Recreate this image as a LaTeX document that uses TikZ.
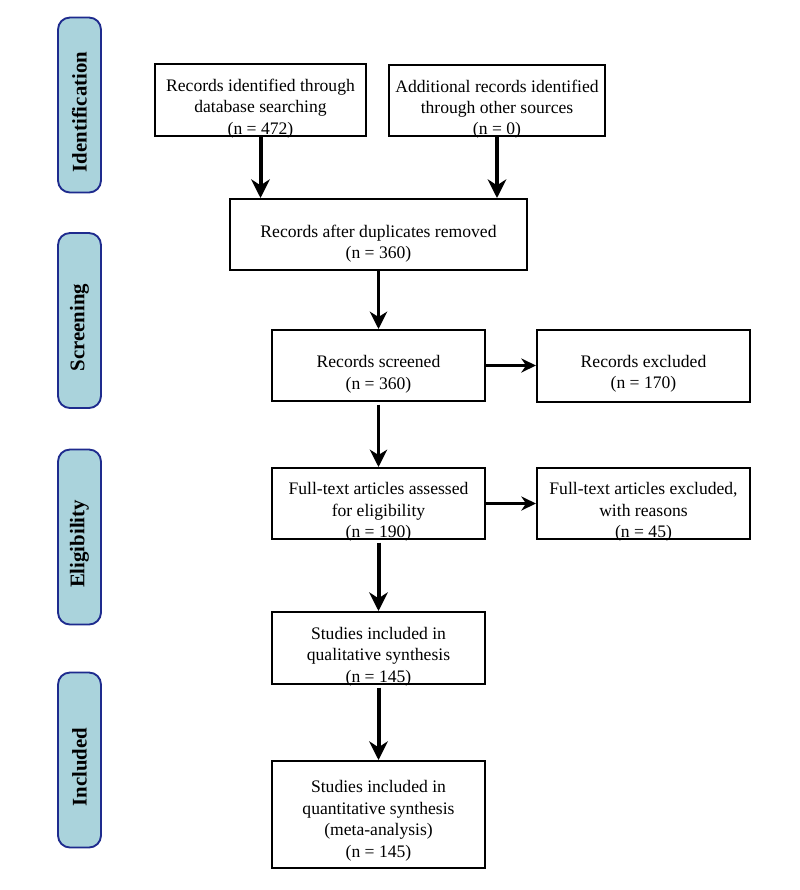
\documentclass[tikz,border=0pt]{standalone}
\usepackage{fontspec}
\setmainfont{Liberation Serif}
\usetikzlibrary{arrows.meta}
\definecolor{phasefill}{HTML}{AAD3DC}
\definecolor{phaseline}{HTML}{1E2B8E}
\tikzset{
  flowbox/.style={draw=black, line width=1.5pt, fill=white, inner sep=0pt},
  boxtext/.style={align=center, inner sep=0pt, font=\fontsize{13.2}{16.1}\selectfont},
  phasebox/.style={draw=phaseline, fill=phasefill, line width=1.4pt, rounded corners=9pt,
    minimum width=32.25pt, minimum height=131.25pt, inner sep=0pt},
  phasetext/.style={rotate=90, inner sep=0pt, font=\fontsize{15.6}{18}\selectfont\bfseries},
  thickarrow/.style={line width=3pt, -{Stealth[length=14pt, width=14pt, inset=4.5pt]}},
  midarrow/.style={line width=2.4pt, -{Stealth[length=13pt, width=13pt, inset=4pt]}},
  sidearrow/.style={line width=2.2pt, -{Stealth[length=11pt, width=10.5pt, inset=3.5pt]}}
}
\begin{document}
\begin{tikzpicture}[x=0.75pt, y=-0.75pt]
\useasboundingbox[fill=white] (0,0) rectangle (800,890);

% phase labels
\node[phasebox] (p1) at (79.5,105) {};
\node[phasetext] (p1t) at ([yshift=-5.25pt]p1.center) {Identification};
\node[phasebox] (p2) at (79.5,320.5) {};
\node[phasetext] (p2t) at ([yshift=-5.25pt]p2.center) {Screening};
\node[phasebox] (p3) at (79.5,537) {};
\node[phasetext] (p3t) at ([yshift=-5.25pt]p3.center) {Eligibility};
\node[phasebox] (p4) at (79.5,760) {};
\node[phasetext] (p4t) at ([yshift=-5.25pt]p4.center) {Included};

% boxes
\node[flowbox, minimum width=158.25pt, minimum height=54pt] (b1) at (260.5,100) {};
\node[boxtext] (b1t) at ([yshift=-6.5pt]b1.center) {Records identified through\\database searching\\(n = 472)};

\node[flowbox, minimum width=162pt, minimum height=53.25pt] (b2) at (497,100.5) {};
\node[boxtext] (b2t) at ([yshift=-6.5pt]b2.center) {Additional records identified\\through other sources\\(n = 0)};

\node[flowbox, minimum width=222.75pt, minimum height=53.25pt] (b3) at (378.5,234.5) {};
\node[boxtext] (b3t) at ([yshift=-7pt]b3.center) {Records after duplicates removed\\(n = 360)};

\node[flowbox, minimum width=159.75pt, minimum height=53.25pt] (b4) at (378.5,365.5) {};
\node[boxtext] (b4t) at ([yshift=-6.5pt]b4.center) {Records screened\\(n = 360)};

\node[flowbox, minimum width=159.75pt, minimum height=54pt] (b5) at (643.5,366) {};
\node[boxtext] (b5t) at ([yshift=-6pt]b5.center) {Records excluded\\(n = 170)};

\node[flowbox, minimum width=159.75pt, minimum height=53.25pt] (b6) at (378.5,503.5) {};
\node[boxtext] (b6t) at ([yshift=-6.5pt]b6.center) {Full-text articles assessed\\for eligibility\\(n = 190)};

\node[flowbox, minimum width=159.75pt, minimum height=53.25pt] (b7) at (643.5,503.5) {};
\node[boxtext] (b7t) at ([yshift=-6.5pt]b7.center) {Full-text articles excluded,\\with reasons\\(n = 45)};

\node[flowbox, minimum width=159.75pt, minimum height=54pt] (b8) at (378.5,648) {};
\node[boxtext] (b8t) at ([yshift=-6.5pt]b8.center) {Studies included in\\qualitative synthesis\\(n = 145)};

\node[flowbox, minimum width=159.75pt, minimum height=80.25pt] (b9) at (378.5,814.5) {};
\node[boxtext] (b9t) at ([yshift=-4.75pt]b9.center) {Studies included in\\quantitative synthesis\\(meta-analysis)\\(n = 145)};

% connectors
\draw[thickarrow] (b1.south) -- (b1.south |- b3.north);
\draw[thickarrow] (b2.south) -- (b2.south |- b3.north);
\draw[midarrow] (b3.south) -- (b4.north);
\draw[midarrow] ([yshift=-2pt]b4.south) -- (b6.north);
\draw[thickarrow] ([yshift=-2pt]b6.south) -- (b8.north);
\draw[thickarrow] ([yshift=-2pt]b8.south) -- (b9.north);
\draw[sidearrow] (b4.east) -- (b4.east -| b5.west);
\draw[sidearrow] (b6.east) -- (b7.west);
\end{tikzpicture}
\end{document}
